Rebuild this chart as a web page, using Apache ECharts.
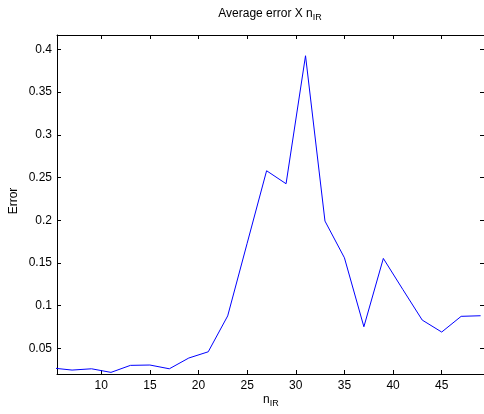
<!DOCTYPE html>
<html><head><meta charset="utf-8">
<script src="https://cdn.jsdelivr.net/npm/echarts@6/dist/echarts.min.js"></script>
<style>html,body{margin:0;padding:0;background:#fff}#c{width:484px;height:414px}</style>
</head><body><div id="c"></div>
<script>
var nIR = [5, 7, 9, 11, 13, 15, 17, 19, 21, 23, 25, 27, 29, 31, 33, 35, 37, 39, 41, 43, 45, 47, 49];
var errorValues = [0.027, 0.0246, 0.0261, 0.0219, 0.0301, 0.0305, 0.0261, 0.0387, 0.046, 0.088, 0.173, 0.2579, 0.2427, 0.3925, 0.199, 0.156, 0.0753, 0.1553, 0.119, 0.0831, 0.0691, 0.0875, 0.0882];
var xTicks = [10, 15, 20, 25, 30, 35, 40, 45];
var yTicks = [0.05, 0.1, 0.15, 0.2, 0.25, 0.3, 0.35, 0.4];

var font = 'Liberation Sans, Arial, sans-serif';
var data = nIR.map(function (x, i) { return [x, errorValues[i]]; });
var xMin = 5.45, xMax = 49.35, yMin = 0.02, yMax = 0.4168;
var lineStyle = { color: '#000', width: 1 };
function xAxis(pos, showLabel) {
  return {
    type: 'value', position: pos, min: xMin, max: xMax,
    axisLine: { show: true, onZero: false, lineStyle: lineStyle },
    axisTick: { show: true, inside: true, length: 4, lineStyle: lineStyle, customValues: xTicks },
    axisLabel: { show: showLabel, customValues: xTicks, color: '#000', fontSize: 12, fontFamily: font, margin: 6 },
    splitLine: { show: false }
  };
}
function yAxis(pos, showLabel) {
  return {
    type: 'value', position: pos, min: yMin, max: yMax,
    axisLine: { show: true, onZero: false, lineStyle: lineStyle },
    axisTick: { show: true, inside: true, length: 4, lineStyle: lineStyle, customValues: yTicks },
    axisLabel: { show: showLabel, customValues: yTicks, color: '#000', fontSize: 12, fontFamily: font, margin: 5,
      formatter: function (v) { return String(+v.toFixed(2)); } },
    splitLine: { show: false }
  };
}
var chart = echarts.init(document.getElementById('c'), null, { renderer: 'canvas' });
chart.setOption({
  animation: false,
  backgroundColor: '#fff',
  title: {
    text: '{a|Average error X n}{b|IR}',
    left: 270, top: 6, padding: 0, textAlign: 'center',
    textStyle: {
      fontWeight: 'normal',
      rich: {
        a: { fontSize: 12, fontWeight: 'normal', fontFamily: font, color: '#000', lineHeight: 16, verticalAlign: 'middle' },
        b: { fontSize: 9, fontWeight: 'normal', fontFamily: font, color: '#000', lineHeight: 16, padding: [7, 0, 0, 0], verticalAlign: 'middle' }
      }
    }
  },
  grid: { left: 57, right: 0, top: 35, bottom: 40, containLabel: false },
  xAxis: [xAxis('bottom', true), xAxis('top', false)],
  yAxis: [yAxis('left', true), yAxis('right', false)],
  graphic: [
    { type: 'text', left: 263, top: 392, style: { text: '{a|n}{b|IR}', rich: {
      a: { fontSize: 12, fontFamily: font, fill: '#000', lineHeight: 16 },
      b: { fontSize: 9, fontFamily: font, fill: '#000', lineHeight: 16, padding: [7, 0, 0, 0] } } } },
    { type: 'text', x: 14, y: 201, rotation: Math.PI / 2, style: { text: 'Error', fontSize: 12, fontFamily: font, fill: '#000', align: 'center', verticalAlign: 'middle' } }
  ],
  series: [{
    type: 'line', data: data, xAxisIndex: 0, yAxisIndex: 0,
    showSymbol: false, smooth: false, clip: true,
    lineStyle: { color: '#0000ff', width: 1 }
  }]
});
</script></body></html>
